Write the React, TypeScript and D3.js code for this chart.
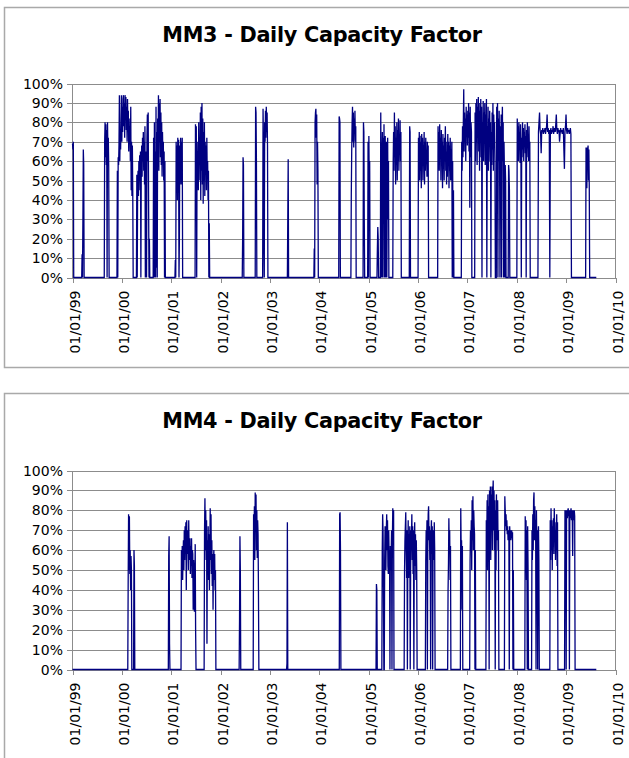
import React from 'react';
import * as d3 from 'd3';

type Run = { start: string; step: number; values: number[] };

const tickLabels = ['01/01/99', '01/01/00', '01/01/01', '01/01/02', '01/01/03', '01/01/04',
  '01/01/05', '01/01/06', '01/01/07', '01/01/08', '01/01/09', '01/01/10'];
const yTicks = [0, 10, 20, 30, 40, 50, 60, 70, 80, 90, 100];
const seriesStart = '1999-01-01';
const seriesEnd = '2009-08-12';

// MM3 operating periods, daily capacity factor (%)
const mm3Runs: Run[] = [
  { start: '1999-01-01', step: 3, values: [69, 66, 70, 0] },
  { start: '1999-03-10', step: 3, values: [0, 12, 0, 30, 66, 58, 0] },
  { start: '1999-08-24', step: 3, values: [0, 70, 80, 62, 79, 58, 76, 0, 80, 65, 72, 57, 0] },
  { start: '1999-11-26', step: 3, values: [0, 55, 0, 62, 58, 68, 94, 60, 75, 66, 80, 94, 70, 88, 75, 92, 94, 78, 90, 72, 94, 85, 93, 76, 88, 70, 92, 80, 86, 65, 82, 70, 78, 60, 88, 45, 70, 42, 68, 43, 0] },
  { start: '2000-04-18', step: 3, values: [0, 53, 0, 48, 55, 42, 60, 50, 63, 45, 65, 0, 58, 68, 52, 72, 60, 75, 55, 70, 48, 78, 0, 30, 65, 0, 72, 84, 60, 85, 40, 0, 20, 0] },
  { start: '2000-08-20', step: 3, values: [0, 72, 0, 80, 0, 65, 0, 88, 5, 75, 0, 82, 60, 94, 55, 90, 70, 92, 62, 85, 58, 80, 52, 75, 60, 70, 50, 65, 0, 60, 0] },
  { start: '2001-01-28', step: 3, values: [0, 9, 0, 70, 45, 68, 40, 72, 50, 71, 0, 20, 68, 55, 72, 48, 70, 60, 72, 0] },
  { start: '2001-06-26', step: 3, values: [0, 79, 55, 78, 0, 70, 50, 65, 45, 80, 60, 72, 50, 85, 40, 88, 55, 90, 48, 82, 38, 75, 50, 80, 42, 70, 55, 68, 45, 72, 52, 60, 40, 55, 0, 28, 0] },
  { start: '2002-06-10', step: 3, values: [0, 20, 62, 58, 0] },
  { start: '2002-09-14', step: 3, values: [0, 88, 85, 60, 0] },
  { start: '2002-11-08', step: 3, values: [0, 87, 70, 20, 0, 80, 70, 86, 72, 88, 75, 85, 68, 0] },
  { start: '2003-05-10', step: 3, values: [0, 30, 61, 0] },
  { start: '2003-11-22', step: 3, values: [0, 15, 0, 80, 85, 87, 72, 84, 48, 70, 55, 0] },
  { start: '2004-05-24', step: 3, values: [0, 83, 82, 80, 0] },
  { start: '2004-08-22', step: 3, values: [0, 43, 65, 80, 88, 70, 85, 67, 82, 75, 86, 70, 78, 0] },
  { start: '2004-11-20', step: 3, values: [0, 80, 75, 30, 0] },
  { start: '2004-12-24', step: 3, values: [0, 70, 0, 73, 45, 60, 0] },
  { start: '2005-03-03', step: 3, values: [0, 15, 26, 20, 0] },
  { start: '2005-03-28', step: 3, values: [0, 85, 40, 0, 60, 75, 0, 72, 30, 79, 0, 65, 73, 0, 55, 70, 0, 48, 72, 30, 60, 0] },
  { start: '2005-06-28', step: 3, values: [0, 60, 75, 55, 85, 62, 78, 48, 72, 58, 80, 50, 76, 60, 82, 55, 70, 65, 81, 60, 75, 0] },
  { start: '2005-10-28', step: 3, values: [0, 78, 75, 0] },
  { start: '2006-01-01', step: 3, values: [0, 72, 60, 75, 50, 73, 55, 70, 46, 74, 58, 72, 50, 68, 62, 75, 48, 70, 55, 72, 60, 65, 52, 70, 58, 68, 0] },
  { start: '2006-05-26', step: 3, values: [0, 78, 60, 75, 55, 79, 62, 72, 50, 76, 58, 70, 46, 74, 56, 68, 50, 72, 60, 78, 55, 70, 48, 65, 52, 74, 60, 70, 46, 68, 55, 72, 50, 66, 58, 70, 0, 60, 0, 45, 0] },
  { start: '2006-11-17', step: 3, values: [0, 70, 55, 78, 62, 80, 97, 65, 85, 70, 82, 60, 88, 75, 84, 68, 86, 72, 90, 65, 85, 36, 88, 62, 80, 75, 0] },
  { start: '2007-02-24', step: 3, values: [0, 85, 60, 90, 70, 92, 58, 88, 72, 93, 65, 90, 55, 86, 75, 92, 62, 88, 0, 80, 70, 91, 60, 85, 74, 90, 58, 84, 68, 92, 0, 78, 65, 88, 55, 82, 70, 86, 60, 80, 0, 75, 58, 85, 66, 90, 55, 84, 70, 80, 60, 0] },
  { start: '2007-08-03', step: 3, values: [0, 88, 65, 90, 0, 82, 60, 86, 70, 0, 78, 62, 84, 0, 75, 88, 60, 80, 0, 70, 55, 0, 58, 50, 0] },
  { start: '2007-10-30', step: 3, values: [0, 58, 55, 45, 0] },
  { start: '2008-01-02', step: 3, values: [0, 82, 65, 78, 60, 80, 70, 75, 59, 79, 68, 0, 72, 62, 80, 66, 77, 60, 75, 70, 79, 64, 73, 0, 76, 62, 80, 68, 74, 60, 78, 65, 70, 0] },
  { start: '2008-06-06', step: 4, values: [0, 75, 80, 85, 76, 74, 64, 76, 75, 77, 74, 76, 75, 77, 74, 76, 78, 84, 75, 77, 74, 76, 0, 75, 77, 74, 76, 75, 78, 74, 76, 77, 75, 79, 84, 76, 74, 77, 75, 76, 70, 74, 77, 75, 76, 74, 75, 77, 66, 56, 75, 78, 84, 76, 74, 77, 75, 76, 74, 75, 77, 74, 0] },
  { start: '2009-05-25', step: 3, values: [0, 67, 66, 46, 67, 65, 68, 50, 66, 46, 0] },
];

// MM4 operating periods
const mm4Runs: Run[] = [
  { start: '2000-02-14', step: 3, values: [0, 45, 78, 50, 77, 48, 60, 40, 57, 50, 0] },
  { start: '2000-03-28', step: 3, values: [0, 60, 52, 0] },
  { start: '2000-12-10', step: 3, values: [0, 57, 67, 13, 0] },
  { start: '2001-03-14', step: 3, values: [0, 60, 48, 62, 45, 58, 65, 50, 70, 55, 72, 60, 74, 40, 75, 58, 70, 65, 50, 75, 60, 55, 66, 48, 62, 52, 66, 46, 60, 58, 30, 55, 50, 29, 40, 63, 20, 0] },
  { start: '2001-09-01', step: 3, values: [0, 70, 86, 60, 80, 55, 75, 13, 65, 50, 72, 45, 68, 40, 60, 81, 55, 78, 48, 65, 42, 58, 30, 55, 60, 45, 58, 40, 50, 0] },
  { start: '2002-05-18', step: 3, values: [0, 25, 67, 50, 0] },
  { start: '2002-08-30', step: 3, values: [0, 78, 65, 82, 55, 89, 70, 88, 60, 80, 56, 75, 68, 40, 0] },
  { start: '2003-05-04', step: 3, values: [0, 3, 74, 0] },
  { start: '2004-05-28', step: 3, values: [0, 78, 79, 60, 0] },
  { start: '2005-02-24', step: 3, values: [0, 43, 40, 0] },
  { start: '2005-04-08', step: 3, values: [0, 60, 78, 70, 40, 0, 0, 55, 72, 65, 50, 70, 78, 60, 75, 52, 48, 70, 55, 60, 0, 62, 50, 58, 70, 0, 65, 81, 72, 80, 0] },
  { start: '2005-09-20', step: 3, values: [0, 50, 65, 72, 79, 60, 46, 70, 0, 55, 75, 46, 68, 60, 72, 0, 50, 70, 65, 78, 55, 72, 48, 70, 0, 60, 74, 52, 68, 45, 65, 50, 0] },
  { start: '2006-02-24', step: 3, values: [0, 55, 70, 62, 75, 0, 60, 78, 82, 65, 72, 55, 70, 0, 68, 75, 58, 72, 0, 62, 70, 55, 74, 60, 0] },
  { start: '2006-08-08', step: 3, values: [0, 40, 53, 76, 60, 70, 45, 62, 0] },
  { start: '2006-11-10', step: 3, values: [0, 81, 60, 65, 30, 62, 0] },
  { start: '2007-01-18', step: 3, values: [0, 55, 70, 60, 75, 50, 85, 65, 87, 60, 80, 72, 68, 0, 60, 0] },
  { start: '2007-05-18', step: 3, values: [0, 75, 60, 85, 50, 88, 70, 82, 0, 90, 65, 92, 55, 88, 75, 92, 60, 88, 95, 70, 90, 60, 85, 0, 80, 50, 88, 65, 78, 85, 60, 70, 0] },
  { start: '2007-10-02', step: 3, values: [0, 87, 80, 72, 78, 70, 75, 68, 72, 65, 70, 68, 0, 72, 66, 70, 65, 68, 70, 66, 69, 0, 50, 0] },
  { start: '2008-03-01', step: 3, values: [0, 77, 60, 75, 45, 70, 0, 72, 50, 0] },
  { start: '2008-04-20', step: 3, values: [0, 70, 55, 78, 60, 85, 89, 65, 82, 70, 75, 0, 80, 58, 70, 0, 65, 72, 55, 0] },
  { start: '2008-09-02', step: 3, values: [0, 75, 55, 81, 60, 75, 50, 72, 65, 76, 58, 81, 70, 74, 55, 70, 60, 78, 52, 74, 0] },
  { start: '2008-12-20', step: 3, values: [0, 80, 75, 80, 0, 78, 80, 76, 80, 81, 77, 80, 0, 80, 76, 79, 81, 75, 80, 78, 57, 80, 75, 78, 80, 77, 0] },
];

const parseDay = d3.timeParse('%Y-%m-%d');
const parseTick = d3.timeParse('%d/%m/%y');

type Pt = { date: Date; value: number };

const buildSeries = (runs: Run[]): Pt[] => {
  const pts: Pt[] = [];
  const first = parseDay(seriesStart) as Date;
  if ((parseDay(runs[0].start) as Date) > first) pts.push({ date: first, value: 0 });
  runs.forEach((r) => {
    const s = parseDay(r.start) as Date;
    r.values.forEach((v, i) => pts.push({ date: d3.timeDay.offset(s, i * r.step), value: v }));
  });
  pts.push({ date: parseDay(seriesEnd) as Date, value: 0 });
  return pts;
};

const font = 'DejaVu Sans, Verdana, sans-serif';
const gridColor = '#8c8c8c';
const lineColor = '#000080';
const X0 = 72.5;
const X1 = 615.5;

const Panel = (props: { title: string; runs: Run[]; boxY: number; titleY: number; top: number; bottom: number }) => {
  const { title, runs, boxY, titleY, top, bottom } = props;
  const ticks = tickLabels.map((t) => parseTick(t) as Date);
  const x = d3.scaleTime().domain([ticks[0], ticks[ticks.length - 1]]).range([X0, X1]);
  const y = d3.scaleLinear().domain([0, 100]).range([bottom, top]);
  const line = d3.line<Pt>().x((d) => x(d.date)).y((d) => y(d.value));
  const data = buildSeries(runs);

  return (
    <g>
      <rect x={4.5} y={boxY} width={660} height={bottom - boxY + 90} fill="#fff" stroke="#a9a9a9" strokeWidth={1.5} />
      <text x={322} y={titleY} textAnchor="middle" fontFamily={font} fontWeight="bold" fontSize={20.8} letterSpacing={-0.3} fill="#000">
        {title}
      </text>
      {yTicks.map((t) => (
        <g key={t}>
          <line x1={X0} x2={X1} y1={Math.round(y(t)) + 0.5} y2={Math.round(y(t)) + 0.5} stroke={gridColor} shapeRendering="crispEdges" />
          <line x1={X0 - 6} x2={X0} y1={Math.round(y(t)) + 0.5} y2={Math.round(y(t)) + 0.5} stroke={gridColor} shapeRendering="crispEdges" />
          <text x={63} y={y(t)} dy="0.36em" textAnchor="end" fontFamily={font} fontSize={14} fill="#000">
            {t}%
          </text>
        </g>
      ))}
      <line x1={X1} x2={X1} y1={top} y2={bottom} stroke={gridColor} shapeRendering="crispEdges" />
      <line x1={X0} x2={X0} y1={top} y2={bottom} stroke={gridColor} shapeRendering="crispEdges" />
      {ticks.map((t, i) => (
        <g key={i}>
          <line x1={Math.round(x(t)) + 0.5} x2={Math.round(x(t)) + 0.5} y1={bottom} y2={bottom + 5} stroke={gridColor} shapeRendering="crispEdges" />
          <text
            transform={`translate(${x(t) + 2},${bottom + 13}) rotate(-90)`}
            dy="0.36em"
            textAnchor="end"
            fontFamily={font}
            fontSize={14}
            fill="#000"
          >
            {tickLabels[i]}
          </text>
        </g>
      ))}
      <path d={line(data) || ''} fill="none" stroke={lineColor} strokeWidth={1.3} strokeLinejoin="miter" />
    </g>
  );
};

export default function App() {
  return (
    <svg width={629} height={758} style={{ position: 'absolute', left: 0, top: 0, background: '#fff' }}>
      <Panel title="MM3 - Daily Capacity Factor" runs={mm3Runs} boxY={7.5} titleY={42} top={83.5} bottom={277.5} />
      <Panel title="MM4 - Daily Capacity Factor" runs={mm4Runs} boxY={393.5} titleY={428} top={470.5} bottom={669.5} />
    </svg>
  );
}
